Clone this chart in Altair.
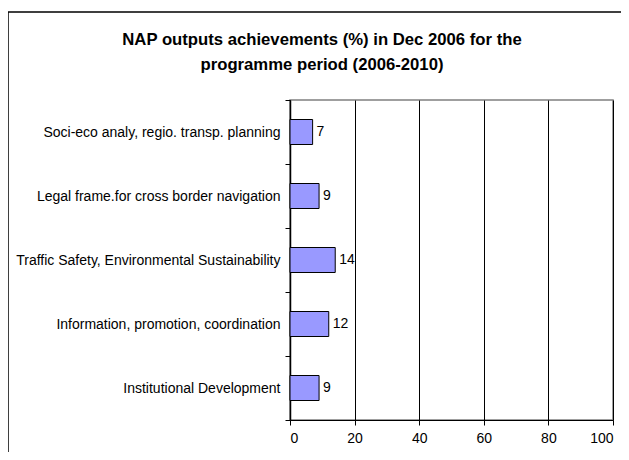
import altair as alt
import pandas as pd

categories = [
    "Soci-eco analy, regio. transp. planning",
    "Legal frame.for cross border navigation",
    "Traffic Safety, Environmental Sustainability",
    "Information, promotion, coordination",
    "Institutional Development",
]
values = [7, 9, 14, 12, 9]
x_ticks = [0, 20, 40, 60, 80, 100]
title_lines = ["NAP outputs achievements (%) in Dec 2006 for the", "programme period (2006-2010)"]

df = pd.DataFrame({"category": categories, "value": values})

FONT = "Liberation Sans Narrow, Liberation Sans, Arial"
W, H = 323, 320

y_enc = alt.Y(
    "category:N",
    sort=categories,
    title=None,
    scale=alt.Scale(paddingInner=0, paddingOuter=0),
    axis=alt.Axis(
        tickBand="extent",
        tickSize=5,
        tickColor="black",
        domainColor="black",
        domainWidth=1.5,
        labelPadding=5,
        labelFontSize=14,
        labelFont=FONT,
        labelColor="black",
        labelLimit=400,
        grid=False,
    ),
)
x_enc = alt.X(
    "value:Q",
    title=None,
    scale=alt.Scale(domain=[0, 100], nice=False),
    axis=alt.Axis(
        values=x_ticks,
        tickSize=5,
        tickColor="black",
        domainColor="black",
        labelPadding=6,
        labelFontSize=14,
        labelFont=FONT,
        labelColor="black",
        grid=True,
        gridColor="black",
        gridWidth=1,
        gridOpacity=1,
    ),
)

frame = alt.Chart(alt.Data(values=[{}])).mark_rect(
    fillOpacity=0, stroke="black", strokeWidth=1.5
).encode(
    x=alt.value(-282), x2=alt.value(900), y=alt.value(-88), y2=alt.value(900)
)

bars = alt.Chart(df).mark_bar(
    color="#9999FF", stroke="black", strokeWidth=1, size=25
).encode(y=y_enc, x=x_enc)

labels = alt.Chart(df).mark_text(
    align="left", baseline="middle", dx=4, fontSize=14, font=FONT, color="black"
).encode(y=alt.Y("category:N", sort=categories), x="value:Q", text="value:Q")

chart = alt.layer(frame, bars, labels).properties(
    width=W,
    height=H,
    autosize=alt.AutoSizeParams(type="none"),
    padding={"left": 282, "top": 92, "right": 8, "bottom": 32},
    title=alt.TitleParams(
        text=title_lines,
        font=FONT,
        fontSize=16.7,
        fontWeight="bold",
        color="black",
        lineHeight=25,
        anchor="middle",
        frame="group",
        dx=-129.5,
        offset=-62,
    ),
    background="white",
).configure_view(stroke="#808080", strokeWidth=1.5)

chart.save("out.html", embed_options={"renderer": "svg", "actions": False})
